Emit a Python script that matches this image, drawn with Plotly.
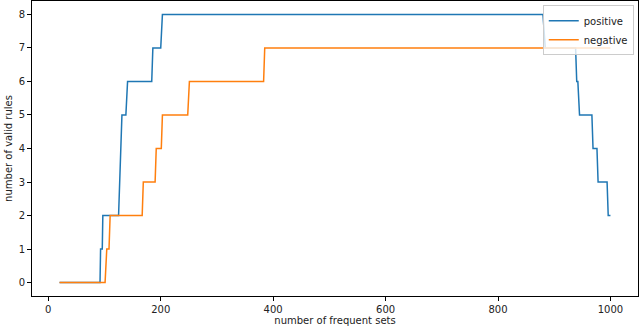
import plotly.graph_objects as go

pos_x = [20, 92, 93, 96, 97, 125, 131, 138, 141, 184, 186, 200, 203, 880, 884, 938, 940, 942, 945, 967, 969, 976, 978, 994, 996, 1000]
pos_y = [0, 0, 1, 1, 2, 2, 5, 5, 6, 6, 7, 7, 8, 8, 7, 7, 6, 6, 5, 5, 4, 4, 3, 3, 2, 2]

neg_x = [20, 101, 104, 108, 110, 167, 169, 190, 192, 201, 203, 248, 251, 383, 385, 1000]
neg_y = [0, 0, 1, 1, 2, 2, 3, 3, 4, 4, 5, 5, 6, 6, 7, 7]

x_ticks = [0, 200, 400, 600, 800, 1000]
y_ticks = [0, 1, 2, 3, 4, 5, 6, 7, 8]

fig = go.Figure()
fig.add_trace(go.Scatter(x=pos_x, y=pos_y, mode="lines", name="positive",
                         line=dict(color="#1f77b4", width=1.5)))
fig.add_trace(go.Scatter(x=neg_x, y=neg_y, mode="lines", name="negative",
                         line=dict(color="#ff7f0e", width=1.5)))

font_color = "#222222"
fig.update_layout(
    width=640, height=329,
    margin=dict(l=32, r=2, t=1, b=33, autoexpand=False),
    paper_bgcolor="white", plot_bgcolor="white",
    font=dict(family="DejaVu Sans", size=10, color=font_color),
    showlegend=True,
    legend=dict(x=0.993, y=0.986, xanchor="right", yanchor="top",
                bgcolor="rgba(255,255,255,0.8)", bordercolor="#cccccc", borderwidth=1,
                font=dict(size=10), tracegroupgap=0, itemwidth=30),
    xaxis=dict(range=[-29, 1049], tickvals=x_ticks, ticks="outside", ticklen=4,
               tickcolor="black", showline=True, linecolor="black", linewidth=1,
               mirror=True, showgrid=False, zeroline=False, automargin=False,
               title=dict(text="number of frequent sets", standoff=2, font=dict(size=10))),
    yaxis=dict(range=[-0.4, 8.4], tickvals=y_ticks, ticks="outside", ticklen=4,
               tickcolor="black", showline=True, linecolor="black", linewidth=1,
               mirror=True, showgrid=False, zeroline=False, automargin=False,
               title=dict(text="number of valid rules", standoff=4, font=dict(size=10))),
)

fig.write_html("out.html", config={"displayModeBar": False},
               post_script="document.body.style.margin='0';")
